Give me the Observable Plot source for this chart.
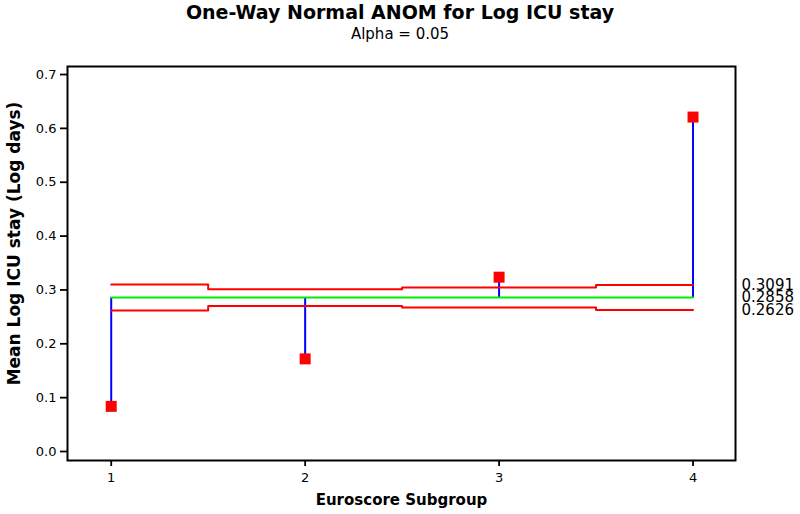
<!DOCTYPE html>
<html>
<head>
<meta charset="utf-8">
<script src="https://cdn.jsdelivr.net/npm/d3@7"></script>
<script src="https://cdn.jsdelivr.net/npm/@observablehq/plot@0.6"></script>
<style>
  html, body { margin: 0; padding: 0; background: #fff; }
  body { width: 800px; height: 514px; overflow: hidden; font-family: "DejaVu Sans", Verdana, sans-serif; }
  #title { height: 24px; line-height: 24px; text-align: center; font-weight: bold; font-size: 19px; color: #000; }
  #subtitle { height: 20px; line-height: 20px; text-align: center; font-size: 15px; color: #000; }
</style>
</head>
<body>
<div id="title">One-Way Normal ANOM for Log ICU stay</div>
<div id="subtitle">Alpha = 0.05</div>
<div id="chart"></div>
<script>
// Data
const groups = [1, 2, 3, 4];
const means = [0.0838, 0.172, 0.3237, 0.621];
const centerLine = 0.2858;
const upperLimits = [0.3099, 0.3013, 0.3044, 0.3091];
const lowerLimits = [0.2617, 0.2703, 0.2672, 0.2626];
const limitLabels = ["0.3091", "0.2858", "0.2626"];
const limitValues = [0.3091, 0.2858, 0.2626];
const yTicks = [0, 0.1, 0.2, 0.3, 0.4, 0.5, 0.6, 0.7];
const xTicks = [1, 2, 3, 4];
const xLabel = "Euroscore Subgroup";
const yLabel = "Mean Log ICU stay (Log days)";

const rows = groups.map((g, i) => ({g, mean: means[i], upper: upperLimits[i], lower: lowerLimits[i]}));
const labelRows = limitLabels.map((t, i) => ({t, v: limitValues[i]}));

const chart = Plot.plot({
  width: 800,
  height: 470,
  marginTop: 22,
  marginBottom: 54,
  marginLeft: 67,
  marginRight: 65,
  style: {fontFamily: "DejaVu Sans, Verdana, sans-serif", fontSize: "13px", background: "white", color: "black"},
  x: {domain: [0.7746, 4.219], ticks: xTicks},
  y: {domain: [-0.0167, 0.7149], ticks: yTicks},
  marks: [
    Plot.axisY({ticks: yTicks, tickSize: 7, tickPadding: 4, tickFormat: d3.format(".1f"), label: null, fontSize: 13, strokeWidth: 1.8}),
    Plot.axisX({ticks: xTicks, tickSize: 6, tickPadding: 6, tickFormat: d => String(d), label: null, fontSize: 13, strokeWidth: 1.8}),
    Plot.ruleX(rows, {x: "g", y1: () => centerLine, y2: "mean", stroke: "#0000ff", strokeWidth: 2}),
    Plot.line(rows, {x: "g", y: () => centerLine, stroke: "#00ee00", strokeWidth: 2}),
    Plot.line(rows, {x: "g", y: "upper", curve: "step", stroke: "#ff0000", strokeWidth: 2}),
    Plot.line(rows, {x: "g", y: "lower", curve: "step", stroke: "#ff0000", strokeWidth: 2}),
    Plot.dot(rows, {x: "g", y: "mean", symbol: "square", fill: "#ff0000", stroke: "none", r: 6.2}),
    Plot.text(labelRows, {frameAnchor: "right", y: "v", text: "t", textAnchor: "start", dx: 6, fontSize: 15, fill: "black"}),
    Plot.text([yLabel], {frameAnchor: "left", text: d => d, textAnchor: "middle", rotate: -90, dx: -53, dy: -20, fontSize: 17, fontWeight: "bold", fill: "black"}),
    Plot.text([xLabel], {frameAnchor: "bottom", text: d => d, dy: 44, fontSize: 15, fontWeight: "bold", fill: "black"}),
    Plot.frame({stroke: "black", strokeWidth: 2})
  ]
});
document.getElementById("chart").appendChild(chart);
</script>
</body>
</html>
